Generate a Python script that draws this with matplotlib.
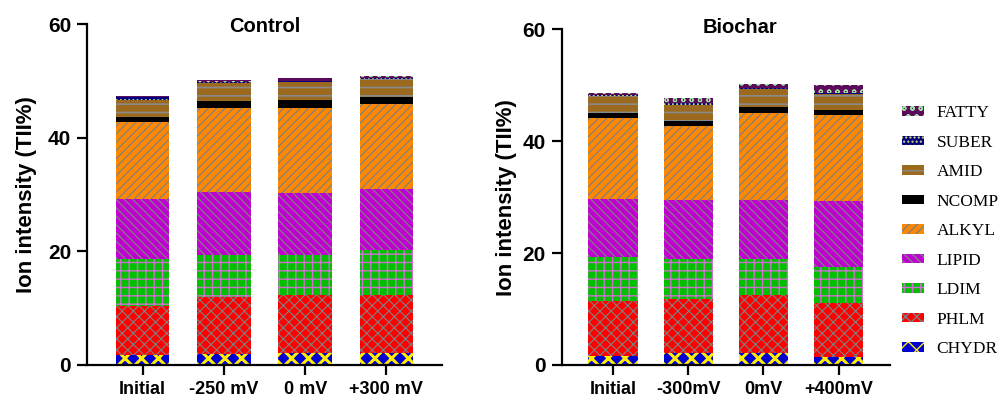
import matplotlib
matplotlib.use("Agg")
import matplotlib.pyplot as plt
import numpy as np

# stacked components, bottom to top
components = ["CHYDR", "PHLM", "LDIM", "LIPID", "ALKYL", "NCOMP", "AMID", "SUBER", "FATTY"]

control_labels = ["Initial", "-250 mV", "0 mV", "+300 mV"]
control = {
    "CHYDR": [1.7, 1.9, 2.1, 2.1],
    "PHLM":  [8.7, 10.0, 10.2, 10.2],
    "LDIM":  [8.2, 7.5, 7.0, 7.9],
    "LIPID": [10.6, 11.0, 11.0, 10.7],
    "ALKYL": [13.5, 14.9, 15.0, 15.0],
    "NCOMP": [1.0, 1.2, 1.3, 1.3],
    "AMID":  [2.9, 3.1, 3.2, 3.1],
    "SUBER": [0.5, 0.2, 0.2, 0.2],
    "FATTY": [0.3, 0.4, 0.5, 0.4],
}

biochar_labels = ["Initial", "-300mV", "0mV", "+400mV"]
biochar = {
    "CHYDR": [1.6, 2.1, 2.1, 1.5],
    "PHLM":  [9.9, 9.75, 10.4, 9.5],
    "LDIM":  [7.75, 7.15, 6.4, 6.6],
    "LIPID": [10.45, 10.5, 10.6, 11.8],
    "ALKYL": [14.5, 13.3, 15.5, 15.3],
    "NCOMP": [0.8, 0.9, 1.2, 0.8],
    "AMID":  [3.1, 2.8, 3.1, 2.9],
    "SUBER": [0.2, 0.3, 0.2, 0.2],
    "FATTY": [0.4, 0.9, 0.8, 1.4],
}

# face colour, hatch colour, hatch, hatch linewidth
styles = {
    "CHYDR": ("#0000d0", "#ffee00", "xx", 2.2),
    "PHLM":  ("#ff0000", "#808080", "xxx", 0.8),
    "LDIM":  ("#00c000", "#d070d0", "++", 1.0),
    "LIPID": ("#c000d0", "#808080", "\\\\\\\\", 0.9),
    "ALKYL": ("#ff8800", "#808080", "////", 0.9),
    "NCOMP": ("#000000", "#000000", "", 0.8),
    "AMID":  ("#9c6a1e", "#8a8a8a", "--", 1.2),
    "SUBER": ("#000080", "#d8e070", "....", 0.8),
    "FATTY": ("#5c0a5c", "#a0e0a0", "oo", 0.8),
}

plt.rcParams["font.family"] = ["Liberation Sans", "DejaVu Sans"]
plt.rcParams["font.weight"] = "bold"

fig = plt.figure(figsize=(9.99, 4.01), dpi=100)
ax1 = fig.add_axes([0.0871, 0.0898, 0.3554, 0.850])
ax2 = fig.add_axes([0.5623, 0.0898, 0.3286, 0.837])


def draw_panel(ax, data, labels, title, title_xy, lpad):
    x = np.arange(len(labels))
    bottom = np.zeros(len(labels))
    handles = []
    for name in components:
        face, hcol, hatch, hlw = styles[name]
        vals = np.array(data[name])
        bars = ax.bar(x, vals, 0.66, bottom=bottom, color=face,
                      edgecolor=hcol, hatch=hatch, linewidth=0, label=name)
        for b in bars:
            if hasattr(b, "set_hatch_linewidth"):
                b.set_hatch_linewidth(hlw)
        handles.append(bars)
        bottom += vals
    ax.set_xlim(-0.685, 3.685)
    ax.set_ylim(0, 60)
    ax.set_yticks([0, 20, 40, 60])
    ax.set_xticks(x)
    ax.set_xticklabels(labels, fontsize=13, fontweight="bold")
    for t in ax.get_yticklabels():
        t.set_fontsize(15)
        t.set_fontweight("bold")
    for s in ["top", "right"]:
        ax.spines[s].set_visible(False)
    for s in ["left", "bottom"]:
        ax.spines[s].set_linewidth(1.6)
    ax.tick_params(axis="both", direction="out", length=7.5, width=1.6, pad=4)
    ax.set_ylabel("Ion intensity (TII%)", fontsize=16, fontweight="bold", labelpad=lpad)
    ax.text(title_xy[0], title_xy[1], title, transform=ax.transAxes, ha="center",
            va="center", fontsize=14.5, fontweight="bold")
    return handles


draw_panel(ax1, control, control_labels, "Control", (0.5, 0.994), 8)
handles = draw_panel(ax2, biochar, biochar_labels, "Biochar", (0.543, 1.005), 4)

leg = fig.legend(handles[::-1], components[::-1], loc="upper left",
                 bbox_to_anchor=(0.9026, 0.738), frameon=False,
                 prop={"family": "Liberation Serif", "size": 12.5, "weight": "normal"},
                 handlelength=1.3, handleheight=0.47, handletextpad=0.7,
                 labelspacing=0.78, borderpad=0, borderaxespad=0)

fig.savefig("out.png", dpi=100)
